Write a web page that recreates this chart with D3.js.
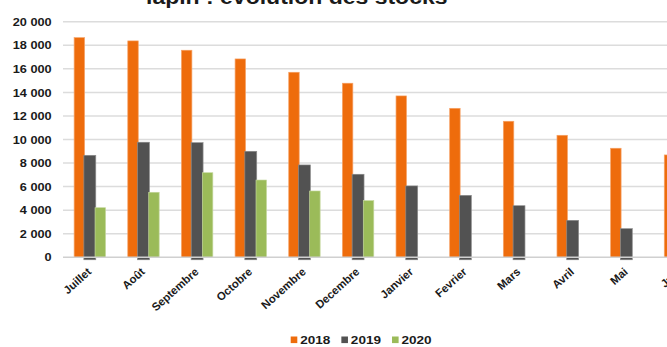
<!DOCTYPE html>
<html>
<head>
<meta charset="utf-8">
<script src="https://cdn.jsdelivr.net/npm/d3@7/dist/d3.min.js"></script>
<style>
  html, body { margin: 0; padding: 0; background: #ffffff; overflow: hidden; }
  svg { display: block; }
  text { font-family: "Liberation Sans", Arial, sans-serif; font-weight: bold; fill: #1a1a1a; }
</style>
</head>
<body>
<div id="chart"></div>
<script>
// ---------- data ----------
const title = "lapin : évolution des stocks";
const months = ["Juillet", "Août", "Septembre", "Octobre", "Novembre", "Decembre",
                "Janvier", "Fevrier", "Mars", "Avril", "Mai", "Juin"];
const years = ["2018", "2019", "2020"];
const values2018 = [18650, 18370, 17580, 16840, 15710, 14780, 13700, 12650, 11550, 10360, 9260, 8690];
const values2019 = [8660, 9770, 9730, 9000, 7840, 7050, 6060, 5260, 4380, 3140, 2430, 1800];
const values2020 = [4210, 5520, 7180, 6560, 5630, 4810, null, null, null, null, null, null];
const yTicks = [0, 2000, 4000, 6000, 8000, 10000, 12000, 14000, 16000, 18000, 20000];
const colors = { "2018": "#EE6C0C", "2019": "#525252", "2020": "#9BBB59" };

// ---------- layout ----------
const W = 667, H = 347;
const sx = 1.18; // horizontal stretch of the original picture
const svg = d3.select("#chart").append("svg").attr("width", W).attr("height", H);
const root = svg.append("g").attr("transform", `scale(${sx},1)`);

const x0 = d3.scaleBand().domain(months).range([63 / sx, 706.8 / sx]).padding(0);
const groupW = 26.6;
const x1 = d3.scaleBand().domain(years).range([0, groupW]).padding(0);
const y = d3.scaleLinear().domain([0, 20000]).range([257.3, 21.7]);

const fr = d3.formatLocale({ decimal: ",", thousands: " ", grouping: [3], currency: ["", "€"] });
const fmt = fr.format(",d");

// title (mostly cut off at the top)
root.append("text")
  .attr("x", 251.5).attr("y", 3.5)
  .attr("text-anchor", "middle")
  .style("font-size", "19.5px")
  .text(title);

// gridlines
root.append("g").selectAll("line")
  .data(yTicks.filter(d => d > 0))
  .join("line")
  .attr("x1", 63 / sx).attr("x2", W / sx + 50)
  .attr("y1", d => y(d)).attr("y2", d => y(d))
  .attr("stroke", "#dcdcdc").attr("stroke-width", 1.5);

// y tick labels
root.append("g").selectAll("text")
  .data(yTicks)
  .join("text")
  .attr("x", 51.7 / sx)
  .attr("y", d => y(d) + 4.2)
  .attr("text-anchor", "end")
  .style("font-size", "10.8px")
  .text(d => fmt(d));

// bars
const series = [
  { year: "2018", values: values2018 },
  { year: "2019", values: values2019 },
  { year: "2020", values: values2020 }
];
const off = (x0.bandwidth() - groupW) / 2;
series.forEach(s => {
  const g = root.append("g");
  const data = months.map((m, i) => ({ m, v: s.values[i] })).filter(d => d.v != null);
  const wide = s.year === "2019" ? 1.2 : 0;
  g.selectAll("rect")
    .data(data)
    .join("rect")
    .attr("x", d => x0(d.m) + off + x1(s.year) - wide / 2)
    .attr("width", x1.bandwidth() + wide)
    .attr("y", d => y(d.v))
    .attr("height", d => y(0) - y(d.v) + (s.year === "2019" ? 2.5 : 0))
    .attr("fill", colors[s.year])
    .attr("stroke", s.year === "2019" ? "#8c8c8c" : (s.year === "2018" ? "#f6a46a" : "#c3d69b"))
    .attr("stroke-width", 0.6);
});

// zero axis line
root.append("line")
  .attr("x1", 63 / sx).attr("x2", W / sx + 50)
  .attr("y1", y(0)).attr("y2", y(0))
  .attr("stroke", "#d0d0d0").attr("stroke-width", 1.5);

// x labels (drawn in picture space)
svg.append("g").selectAll("text")
  .data(months)
  .join("text")
  .attr("transform", d => `translate(${(x0(d) + x0.bandwidth() / 2) * sx + 2.2},${y(0) + 15.5}) rotate(-42)`)
  .attr("text-anchor", "end")
  .style("font-size", "11.3px")
  .text(d => d);

// legend
const leg = root.append("g");
let lx = 290.7 / sx;
years.forEach(yr => {
  leg.append("rect")
    .attr("x", lx).attr("y", 336.5)
    .attr("width", 6.6 / sx).attr("height", 6.6)
    .attr("fill", colors[yr]);
  const t = leg.append("text")
    .attr("x", lx + 9.5 / sx).attr("y", 344.2)
    .style("font-size", "11.5px")
    .text(yr);
  lx += 9.5 / sx + t.node().getComputedTextLength() + 11 / sx;
});
</script>
</body>
</html>
